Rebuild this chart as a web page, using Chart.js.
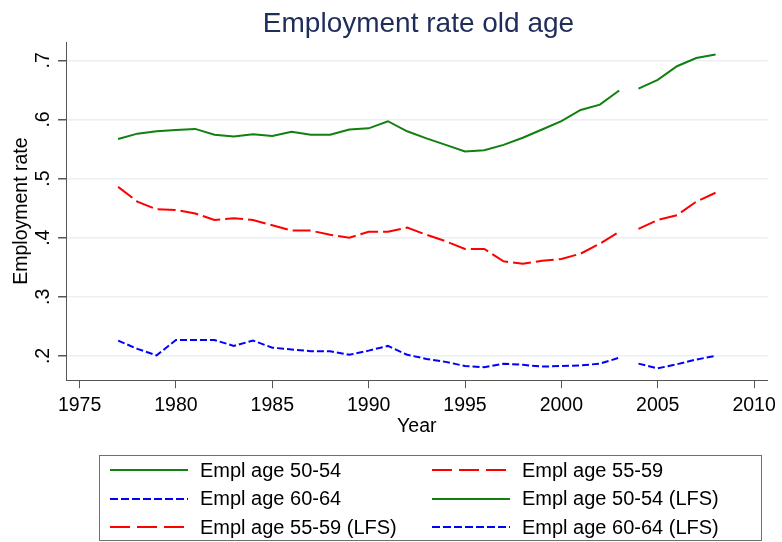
<!DOCTYPE html>
<html>
<head>
<meta charset="utf-8">
<script src="https://cdn.jsdelivr.net/npm/chart.js@4/dist/chart.umd.min.js"></script>
<style>
  body { margin: 0; background: #fff; font-family: "Liberation Sans", Arial, sans-serif; }
  #wrap { position: relative; width: 782px; height: 542px; }
  #title { position: absolute; left: 67px; width: 703px; top: 9px; text-align: center;
           font-size: 28px; line-height: 28px; color: #1f2d5a; }
  #legend { position: absolute; left: 99px; top: 455px; width: 651px; height: 84px;
            border: 1px solid #707070; box-sizing: content-box;
            display: grid; grid-template-columns: 322px 322px; grid-auto-rows: 28.5px;
            padding-left: 10px; padding-top: 0; }
  .item { display: flex; align-items: center; font-size: 20px; color: #000; white-space: nowrap; }
  .item svg { margin-right: 12px; }
</style>
</head>
<body>
<div id="wrap">
  <canvas id="chart" width="782" height="542"></canvas>
  <div id="title">Employment rate old age</div>
  <div id="legend"></div>
</div>
<script>
// ===== DATA =====
const yearsMain = [1977, 1978, 1979, 1980, 1981, 1982, 1983, 1984, 1985, 1986, 1987, 1988, 1989, 1990,
                   1991, 1992, 1993, 1994, 1995, 1996, 1997, 1998, 1999, 2000, 2001, 2002, 2003];
const yearsLFS = [2004, 2005, 2006, 2007, 2008];

const empl5054 = [0.567, 0.576, 0.580, 0.582, 0.584, 0.574, 0.571, 0.575, 0.572, 0.579, 0.574, 0.574, 0.583, 0.585,
                  0.597, 0.580, 0.568, 0.557, 0.546, 0.548, 0.557, 0.569, 0.583, 0.597, 0.616, 0.625, 0.649];
const empl5559 = [0.486, 0.461, 0.448, 0.447, 0.441, 0.430, 0.433, 0.430, 0.421, 0.412, 0.412, 0.405, 0.400, 0.410,
                  0.410, 0.417, 0.405, 0.394, 0.381, 0.381, 0.360, 0.356, 0.361, 0.364, 0.373, 0.390, 0.410];
const empl6064 = [0.226, 0.212, 0.201, 0.227, 0.227, 0.227, 0.217, 0.226, 0.214, 0.211, 0.208, 0.208, 0.202, 0.209,
                  0.217, 0.202, 0.195, 0.190, 0.183, 0.181, 0.187, 0.185, 0.182, 0.183, 0.184, 0.187, 0.197];

const lfs5054 = [0.652, 0.667, 0.690, 0.704, 0.710];
const lfs5559 = [0.415, 0.430, 0.438, 0.461, 0.476];
const lfs6064 = [0.187, 0.179, 0.186, 0.194, 0.200];

const seriesLabels = ["Empl age 50-54", "Empl age 55-59", "Empl age 60-64",
                      "Empl age 50-54 (LFS)", "Empl age 55-59 (LFS)", "Empl age 60-64 (LFS)"];

const xTicks = [1975, 1980, 1985, 1990, 1995, 2000, 2005, 2010];
const yTicks = [0.2, 0.3, 0.4, 0.5, 0.6, 0.7];

// ===== STYLES =====
const GREEN = "rgb(16,128,16)";
const RED = "rgb(255,0,0)";
const BLUE = "rgb(0,0,255)";
const LONG_DASH = [18, 5];
const SHORT_DASH = [7, 3];

function pts(years, vals) {
    return years.map((y, i) => ({ x: y, y: vals[i] }));
}

function ds(label, years, vals, color, dash) {
    return {
        label: label,
        data: pts(years, vals),
        borderColor: color,
        borderWidth: 2,
        borderDash: dash,
        pointRadius: 0,
        fill: false,
        tension: 0
    };
}

const datasets = [
    ds(seriesLabels[0], yearsMain, empl5054, GREEN, []),
    ds(seriesLabels[1], yearsMain, empl5559, RED, LONG_DASH),
    ds(seriesLabels[2], yearsMain, empl6064, BLUE, SHORT_DASH),
    ds(seriesLabels[3], yearsLFS, lfs5054, GREEN, []),
    ds(seriesLabels[4], yearsLFS, lfs5559, RED, LONG_DASH),
    ds(seriesLabels[5], yearsLFS, lfs6064, BLUE, SHORT_DASH)
];

const FONT = "'Liberation Sans', Arial, sans-serif";

new Chart(document.getElementById("chart"), {
    type: "line",
    data: { datasets: datasets },
    options: {
        responsive: false,
        animation: false,
        layout: { padding: { top: 42, right: 12, bottom: 104, left: 10 } },
        plugins: {
            legend: { display: false },
            title: { display: false },
            tooltip: { enabled: false }
        },
        scales: {
            x: {
                type: "linear",
                min: 1974.3,
                max: 2010.7,
                afterBuildTicks: s => { s.ticks = xTicks.map(v => ({ value: v })); },
                ticks: {
                    color: "#000",
                    font: { family: FONT, size: 19.5 },
                    padding: 6,
                    maxRotation: 0,
                    callback: v => String(v)
                },
                grid: { drawOnChartArea: false, drawTicks: true, tickLength: 8, tickColor: "#555", color: "#555" },
                border: { display: true, color: "#555", width: 1 },
                title: {
                    display: true, text: "Year", color: "#000",
                    font: { family: FONT, size: 19.5 },
                    padding: { top: -9, bottom: 0 }
                }
            },
            y: {
                min: 0.159,
                max: 0.731,
                afterBuildTicks: s => { s.ticks = yTicks.map(v => ({ value: v })); },
                ticks: {
                    color: "#000",
                    font: { family: FONT, size: 19.5, lineHeight: 0.65 },
                    padding: 6,
                    minRotation: 90,
                    maxRotation: 90,
                    crossAlign: "center",
                    callback: v => String(v).replace(/^0/, "")
                },
                grid: { color: "#eaf0f3", lineWidth: 1.5, tickLength: 8, tickColor: "#555" },
                border: { display: true, color: "#555", width: 1 },
                title: {
                    display: true, text: "Employment rate", color: "#000",
                    font: { family: FONT, size: 19.5 },
                    padding: { top: 0, bottom: 0 }
                }
            }
        }
    }
});

// ===== LEGEND =====
const legendOrder = [0, 1, 2, 3, 4, 5];
const legendEl = document.getElementById("legend");
legendOrder.forEach(i => {
    const d = datasets[i];
    const dash = d.borderDash.length ? (d.borderDash === LONG_DASH ? "20 7" : "8 3") : "none";
    const item = document.createElement("div");
    item.className = "item";
    item.innerHTML =
        '<svg width="78" height="10"><line x1="0" y1="5" x2="78" y2="5" stroke="' + d.borderColor +
        '" stroke-width="2" stroke-dasharray="' + dash + '"/></svg><span>' + d.label + '</span>';
    legendEl.appendChild(item);
});
</script>
</body>
</html>
